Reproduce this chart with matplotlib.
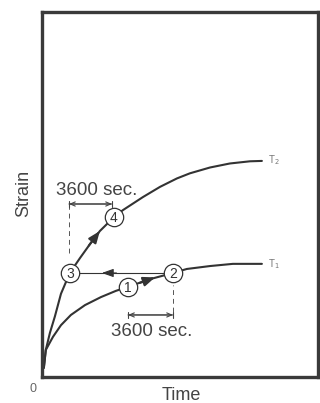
import matplotlib
matplotlib.use("Agg")
import matplotlib.pyplot as plt

plt.rcParams["font.family"] = ["Liberation Sans", "DejaVu Sans"]

INK = "#333333"
TEXT = "#444444"

# curves (time, strain), arbitrary units 0-100
t2_time = [0.7, 1.4, 2.9, 4.7, 6.9, 10.1, 13.8, 17.4, 21.0, 26.1, 29.3, 36.6, 42.8,
           48.9, 53.6, 60.9, 68.1, 75.4, 79.7]
t2_strain = [2.5, 7.4, 12.1, 16.6, 22.8, 28.5, 32.6, 36.4, 40.0, 43.8, 45.7, 49.3, 52.1,
             54.4, 55.8, 57.4, 58.5, 59.1, 59.2]
t1_time = [0.7, 1.4, 4.0, 6.9, 10.5, 15.6, 21.4, 26.8, 31.2, 39.1, 47.5, 52.5, 60.9,
           69.2, 79.7]
t1_strain = [2.5, 7.4, 11.0, 14.2, 17.0, 19.7, 21.9, 23.6, 24.7, 26.8, 28.5, 29.6, 30.4,
             31.0, 31.0]

# numbered states
state_labels = ["1", "2", "3", "4"]
state_time = [31.2, 47.5, 10.1, 26.1]
state_strain = [24.7, 28.5, 28.5, 43.8]

fig = plt.figure(figsize=(3.2, 4.03), dpi=100)
ax = fig.add_axes([0.131, 0.0645, 0.8625, 0.9057])
ax.set_xlim(0, 100)
ax.set_ylim(0, 100)
ax.set_xticks([])
ax.set_yticks([])
for sp in ax.spines.values():
    sp.set_linewidth(2.4)
    sp.set_color("#3a3a3a")

ax.plot(t2_time, t2_strain, color=INK, lw=1.5, solid_capstyle="round", solid_joinstyle="round")
ax.plot(t1_time, t1_strain, color=INK, lw=1.5, solid_capstyle="round", solid_joinstyle="round")
ax.text(82.0, 59.4, r"T$_2$", fontsize=7, color="#777777", va="center")
ax.text(82.0, 30.8, r"T$_1$", fontsize=7, color="#777777", va="center")

# 2 -> 3 horizontal transfer
ax.plot([state_time[2], state_time[1]], [state_strain[2], state_strain[1]], color=INK, lw=0.8)

arrow_kw = dict(arrowstyle="-|>,head_length=0.7,head_width=0.28", color=INK, lw=1.5,
                shrinkA=0, shrinkB=0)
ax.annotate("", xy=(21.0, 40.0), xytext=(17.0, 36.0), arrowprops=arrow_kw)
ax.annotate("", xy=(41.0, 27.3), xytext=(35.5, 25.8), arrowprops=arrow_kw)
ax.annotate("", xy=(21.7, 28.5), xytext=(27.0, 28.5),
            arrowprops=dict(arrowstyle="-|>,head_length=0.7,head_width=0.25", color=INK,
                            lw=0.8, shrinkA=0, shrinkB=0))

ax.scatter(state_time, state_strain, s=175, facecolor="white", edgecolor=INK,
           linewidth=0.9, zorder=4)
for lab, x, y in zip(state_labels, state_time, state_strain):
    ax.text(x, y - 0.2, lab, fontsize=10, ha="center", va="center", color=INK, zorder=5)

# dashed guides and 3600 sec. dimensions
ax.plot([9.8, 9.8], [33.9, 47.4], color="#555555", lw=0.7, ls=(0, (5, 4)))
ax.plot([47.5, 47.5], [17.8, 25.3], color="#555555", lw=0.7, ls=(0, (5, 4)))

dim_kw = dict(color="#444444", lw=0.8, shrinkA=0, shrinkB=0)
for x0, x1, y in [(9.8, 25.4, 47.4), (31.2, 47.5, 17.0)]:
    ax.annotate("", xy=(x1, y), xytext=(x0, y),
                arrowprops=dict(arrowstyle="<->,head_length=0.35,head_width=0.15", **dim_kw))
    ax.annotate("", xy=(x1, y), xytext=(x0, y),
                arrowprops=dict(arrowstyle="|-|,widthA=0.2,widthB=0.2", **dim_kw))

ax.text(5.2, 51.2, "3600 sec.", fontsize=13.5, color=TEXT, va="center")
ax.text(25.0, 12.6, "3600 sec.", fontsize=13.5, color=TEXT, va="center")

fig.text(33 / 320, 1 - 389 / 403, "0", fontsize=9, color="#666666", ha="center", va="center")
fig.text(181 / 320, 1 - 396 / 403, "Time", fontsize=13, color=TEXT, ha="center", va="center")
fig.text(24 / 320, 1 - 193 / 403, "Strain", fontsize=13, color=TEXT, ha="center",
         va="center", rotation=90)

fig.savefig("out.png", dpi=100)
